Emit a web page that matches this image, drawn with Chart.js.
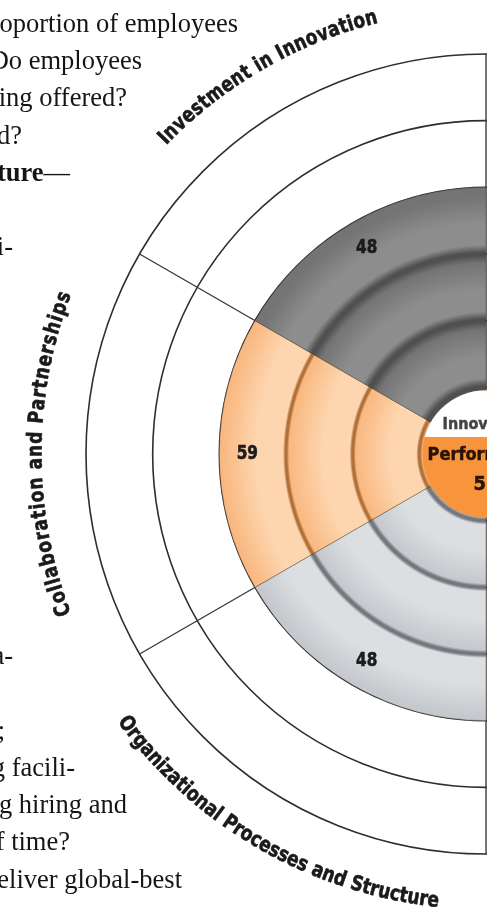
<!DOCTYPE html>
<html>
<head>
<meta charset="utf-8">
<script src="https://cdn.jsdelivr.net/npm/chart.js@4.4.1/dist/chart.umd.min.js"></script>
<style>
html,body{margin:0;padding:0;background:#fff;}
#page{position:relative;width:487px;height:911px;overflow:hidden;background:#fff;}
#chartBox{position:absolute;left:0;top:0;width:972px;height:911px;}
.ln{position:absolute;white-space:nowrap;font-family:"Liberation Serif","Times New Roman",serif;font-size:26.5px;line-height:26px;color:#151515;z-index:2;}
</style>
</head>
<body>
<div id="page">
  <div id="chartBox"><canvas id="c" width="972" height="911"></canvas></div>
</div>
<script>
// ---- chart data ----
const categories = ['Organizational Processes and Structure', 'Collaboration and Partnerships', 'Investment in Innovation'];
const scores = [48, 59, 48];          // numbers printed in each wedge
const levels = [4, 4, 4];             // radial extent of each wedge (rings)
const ringMax = 6;                    // number of concentric rings
const centerTitle = ['Innovation', 'Performance'];
const centerScore = '5';              // visible part of the centre score

// ---- surrounding article text (visible ends of lines) ----
const textLines = [
  {k: 0, html: 'oportion of employees', end: 238},
  {k: 1, html: 'Do employees', end: 142},
  {k: 2, html: 'ing offered?', end: 127},
  {k: 3, html: 'd?', end: 22},
  {k: 4, html: '<b>ture</b>—', end: 70},
  {k: 6, html: 'i-', end: 13},
  {k: 17, html: 'a-', end: 13},
  {k: 19, html: ';', end: 5},
  {k: 20, html: 'g facili-', end: 75},
  {k: 21, html: 'g hiring and', end: 127},
  {k: 22, html: 'f time?', end: 70},
  {k: 23, html: 'eliver global-best', end: 182}
];
const page = document.getElementById('page');
textLines.forEach(l => {
  const d = document.createElement('div');
  d.className = 'ln';
  d.innerHTML = l.html;
  d.style.right = (487 - l.end) + 'px';
  d.style.top = (31 + 37.2 * l.k - 21) + 'px';
  page.appendChild(d);
});

// ---- styling ----
const palettes = [
  {light: '#dcdfe2', mid: '#c5c8cc', ring: '#74777c', rw: 2.2, soft: 4},   // Organizational
  {light: '#fdd5ae', mid: '#f9b881', ring: '#b0703a', rw: 1.8, soft: 3},   // Collaboration
  {light: '#8d8d8d', mid: '#747474', ring: '#505050', rw: 3, soft: 9}      // Investment
];
const labelFont = '"DejaVu Sans Condensed", "Liberation Sans Narrow", sans-serif';
const labelArcs = [ // span (deg) and orientation of curved category labels
  {span: 48, inward: true},
  {span: 42, inward: false},
  {span: 32, inward: false}
];

function wedgeFill(context) {
  const i = context.dataIndex;
  const p = palettes[i % palettes.length];
  const chart = context.chart;
  const s = chart.scales.r;
  if (!s || !s.drawingArea) return p.mid;
  const R = s.drawingArea;
  const g = chart.ctx.createRadialGradient(s.xCenter, s.yCenter, 0, s.xCenter, s.yCenter, R);
  const lv = levels[i];
  const f = r => Math.max(0, Math.min(1, r / R));
  g.addColorStop(0, p.light);
  for (let k = 0; k < lv; k++) {
    const a = s.getDistanceFromCenterForValue(k);
    const b = s.getDistanceFromCenterForValue(k + 1);
    if (k > 0) g.addColorStop(f(a + p.soft), p.light);
    g.addColorStop(f(a + (b - a) * 0.45), p.light);
    g.addColorStop(f(b - p.soft), p.mid);
    if (k + 1 < lv) {
      g.addColorStop(f(b - p.rw / 2), p.ring);
      g.addColorStop(f(b + p.rw / 2), p.ring);
    } else {
      g.addColorStop(f(b), p.mid);
    }
  }
  g.addColorStop(1, p.mid);
  return g;
}

function heavyText(ctx, t, x, y) {
  ctx.fillText(t, x, y);
  ctx.strokeText(t, x, y);
}

function arcText(ctx, text, cx, cy, r, mid, spanDeg, inward) {
  const chars = [...text];
  const widths = chars.map(c => ctx.measureText(c).width * 0.9);
  const total = widths.reduce((a, b) => a + b, 0);
  const target = r * spanDeg * Math.PI / 180;
  const extra = (target - total) / (chars.length - 1);
  let pos = -target / 2;
  chars.forEach((c, i) => {
    const w = widths[i];
    const sc = pos + w / 2;
    const a = inward ? mid - sc / r : mid + sc / r;
    ctx.save();
    ctx.translate(cx + r * Math.cos(a), cy + r * Math.sin(a));
    ctx.rotate(inward ? a - Math.PI / 2 : a + Math.PI / 2);
    ctx.scale(0.9, 1);
    ctx.textAlign = 'center';
    ctx.textBaseline = 'middle';
    heavyText(ctx, c, 0, 0);
    ctx.restore();
    pos += w + extra;
  });
}

const decor = {
  id: 'decor',
  beforeDatasetsDraw(chart) {
    const s = chart.scales.r, ctx = chart.ctx;
    const cx = s.xCenter, cy = s.yCenter, R = s.drawingArea;
    const meta = chart.getDatasetMeta(0);
    const angles = new Set();
    meta.data.forEach(a => { angles.add(+a.startAngle.toFixed(4)); angles.add(+a.endAngle.toFixed(4)); });
    ctx.save();
    ctx.strokeStyle = '#3a3a3a';
    ctx.lineWidth = 1.4;
    angles.forEach(a => {
      ctx.beginPath();
      ctx.moveTo(cx, cy);
      ctx.lineTo(cx + R * Math.cos(a), cy + R * Math.sin(a));
      ctx.stroke();
    });
    ctx.restore();
  },
  afterDatasetsDraw(chart) {
    const s = chart.scales.r, ctx = chart.ctx;
    const cx = s.xCenter, cy = s.yCenter, R = s.drawingArea;
    const meta = chart.getDatasetMeta(0);
    // centre disk
    const r0 = s.getDistanceFromCenterForValue(1) - 3;
    ctx.save();
    ctx.beginPath();
    ctx.arc(cx, cy, r0, 0, Math.PI * 2);
    ctx.clip();
    ctx.fillStyle = '#f7943c';
    ctx.fillRect(cx - r0, cy - r0, 2 * r0, 2 * r0);
    ctx.fillStyle = '#ffffff';
    ctx.fillRect(cx - r0, cy - r0, 2 * r0, r0 - 17);
    ctx.restore();
    ctx.save();
    ctx.textAlign = 'center';
    ctx.textBaseline = 'middle';
    ctx.lineWidth = 0.5;
    ctx.fillStyle = ctx.strokeStyle = '#444444';
    ctx.font = 'bold 16px ' + labelFont;
    heavyText(ctx, centerTitle[0], cx, cy - 29);
    ctx.fillStyle = ctx.strokeStyle = '#2a1406';
    ctx.font = 'bold 18px ' + labelFont;
    heavyText(ctx, centerTitle[1], cx, cy + 1);
    ctx.font = 'bold 20px ' + labelFont;
    ctx.textAlign = 'right';
    heavyText(ctx, centerScore, cx, cy + 31);
    ctx.restore();
    // wedge scores and curved labels
    ctx.save();
    ctx.lineWidth = 0.6;
    meta.data.forEach((arc, i) => {
      const mid = (arc.startAngle + arc.endAngle) / 2;
      const rr = arc.outerRadius - 28;
      ctx.fillStyle = ctx.strokeStyle = '#1c1c1c';
      ctx.font = 'bold 20px ' + labelFont;
      ctx.textAlign = 'center';
      ctx.textBaseline = 'middle';
      const x = cx + rr * Math.cos(mid), y = cy + rr * Math.sin(mid);
      ctx.save();
      ctx.translate(x, y);
      ctx.scale(0.85, 1);
      heavyText(ctx, String(scores[i]), 0, 0);
      ctx.restore();
      ctx.font = 'bold 21px ' + labelFont;
      ctx.fillStyle = ctx.strokeStyle = '#1a1a1a';
      arcText(ctx, categories[i], cx, cy, R + 50, mid, labelArcs[i].span, labelArcs[i].inward);
    });
    ctx.restore();
  }
};

new Chart(document.getElementById('c'), {
  type: 'polarArea',
  data: {
    labels: categories,
    datasets: [{
      data: levels,
      backgroundColor: wedgeFill,
      borderColor: 'rgba(70,50,30,0.35)',
      borderWidth: 1,
      angle: 60
    }]
  },
  options: {
    responsive: false,
    animation: false,
    layout: {padding: {left: 86, right: 86, top: 54, bottom: 57}},
    plugins: {legend: {display: false}, tooltip: {enabled: false}},
    scales: {
      r: {
        min: 0,
        max: ringMax,
        startAngle: 180,
        ticks: {display: false, stepSize: 1},
        grid: {circular: true, color: '#2e2e2e', lineWidth: 1.6},
        angleLines: {display: false},
        pointLabels: {display: false}
      }
    }
  },
  plugins: [decor]
});
</script>
</body>
</html>
